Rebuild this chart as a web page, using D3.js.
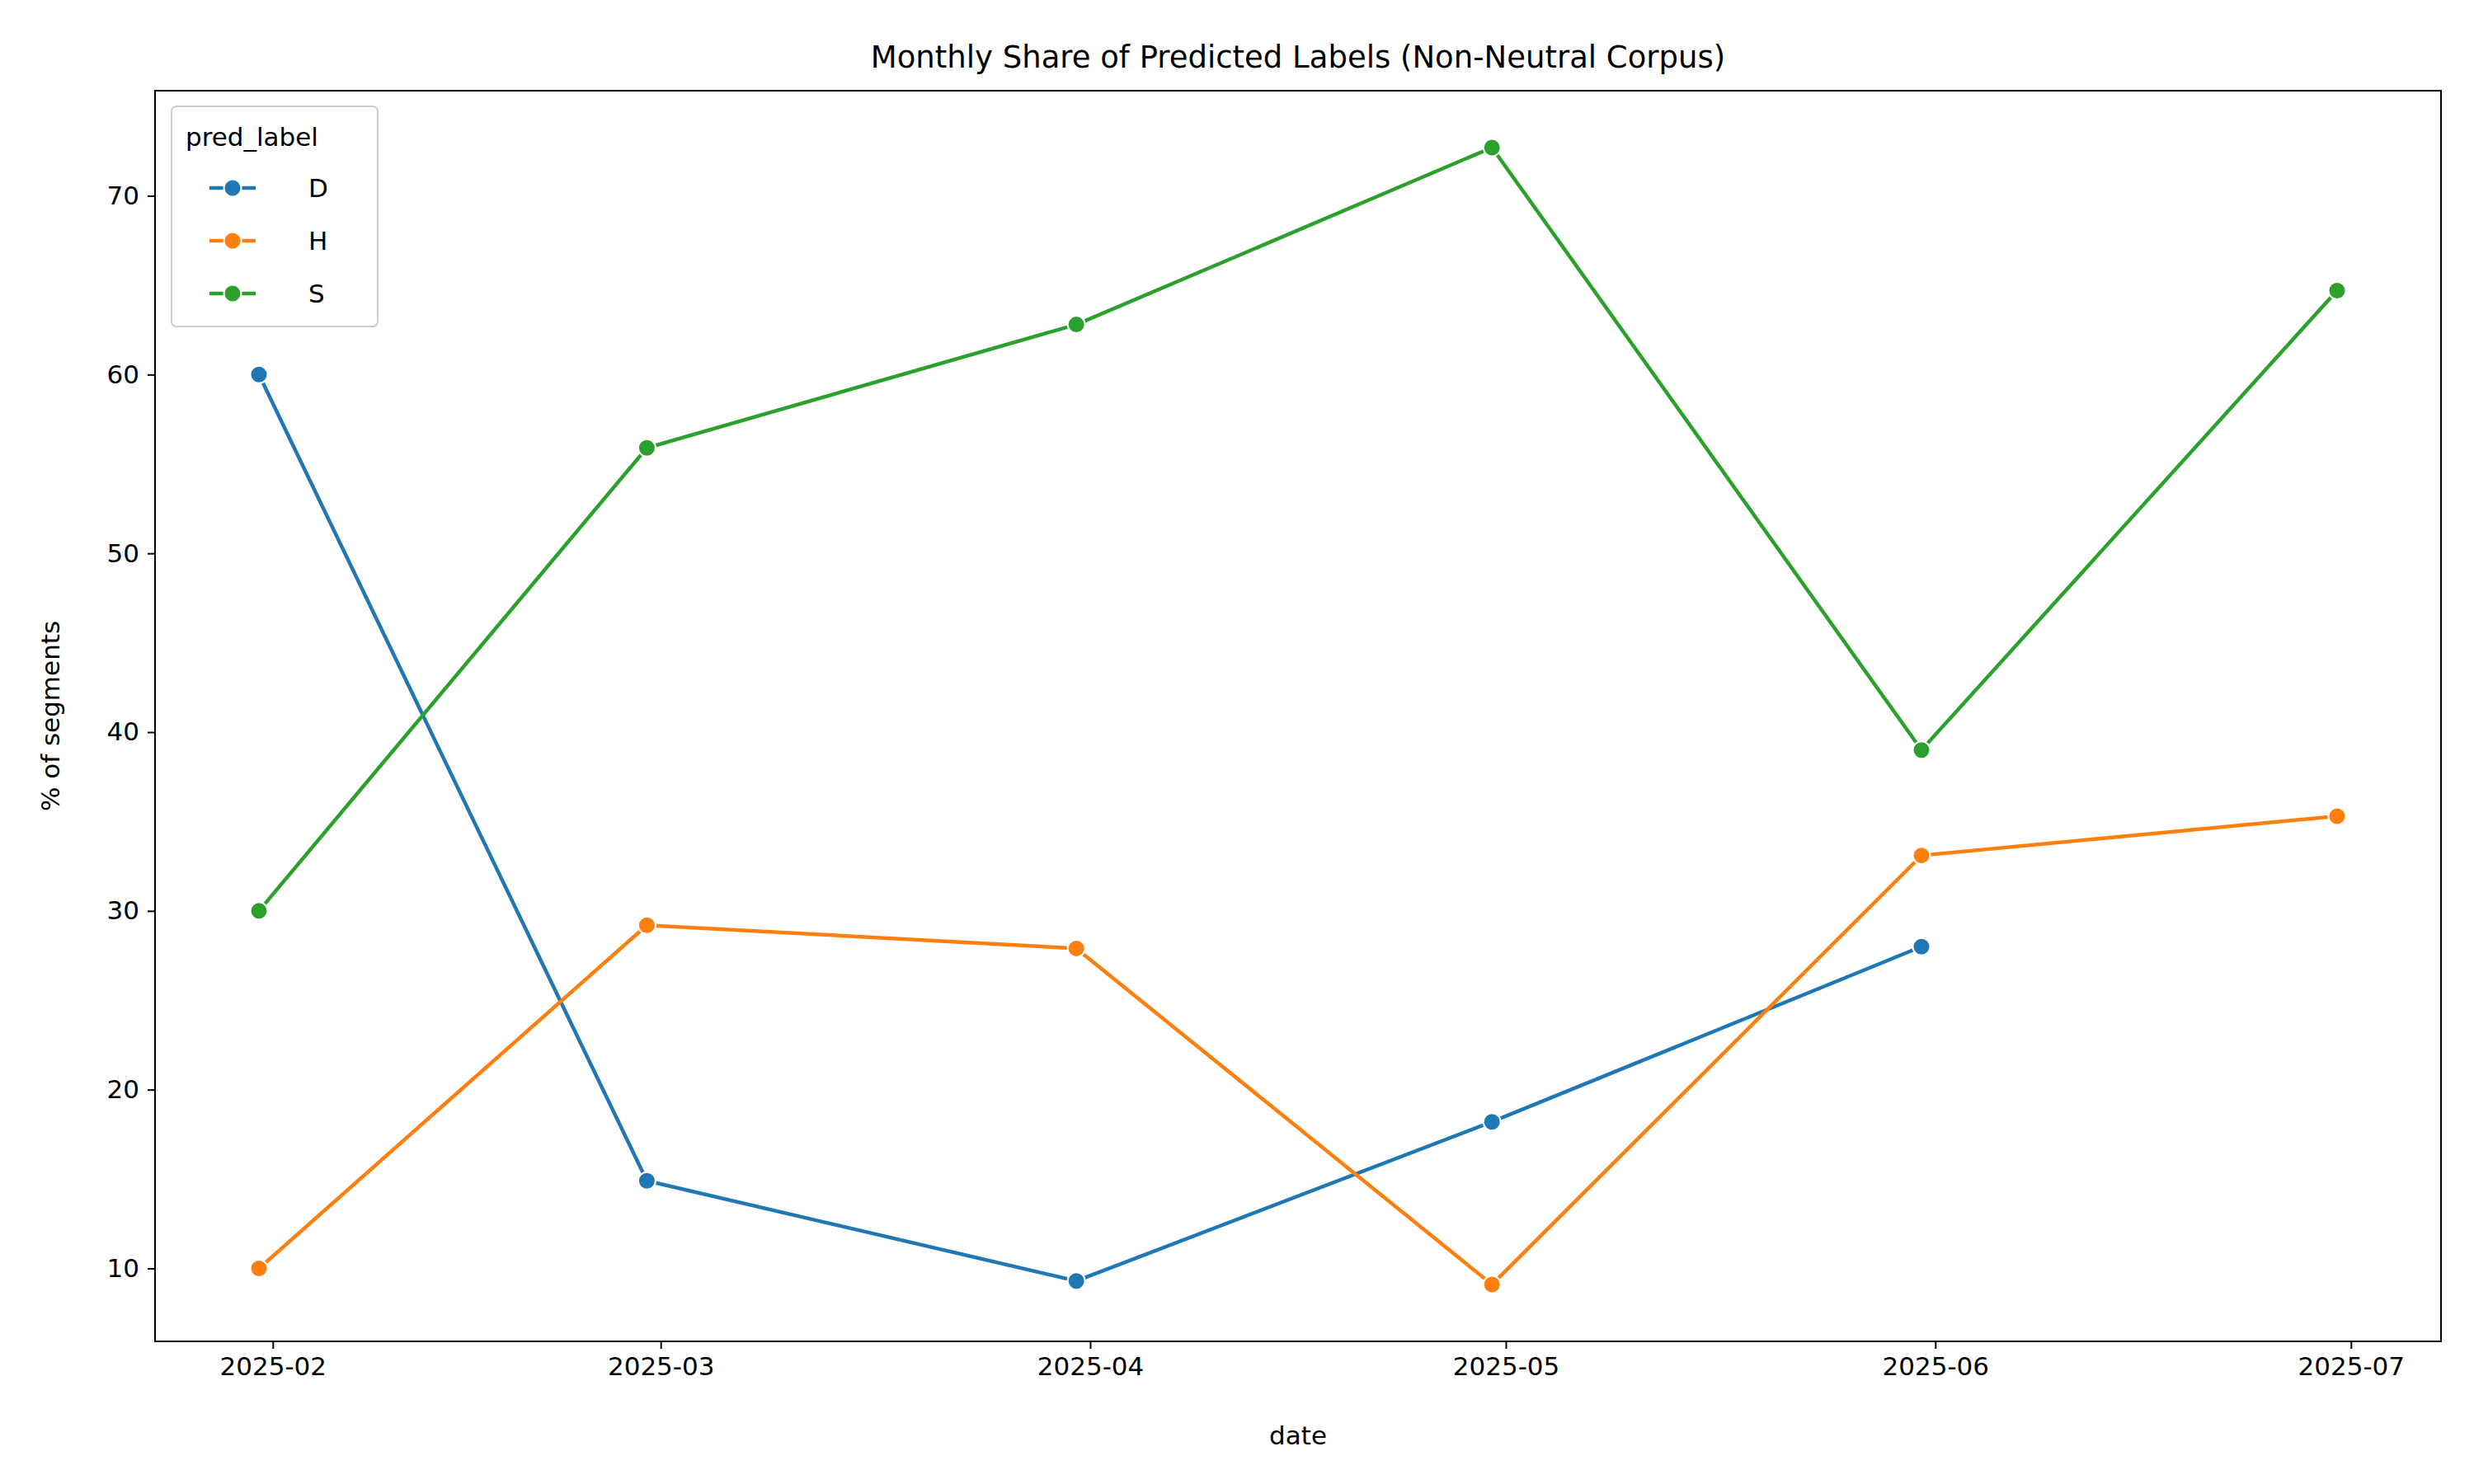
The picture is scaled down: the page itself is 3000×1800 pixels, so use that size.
<!DOCTYPE html>
<html><head><meta charset="utf-8">
<script src="https://cdn.jsdelivr.net/npm/d3@7"></script>
<style>body{margin:0;background:#fff}text{font-family:"DejaVu Sans",sans-serif}</style>
</head><body><svg id="chart" width="3000" height="1800"></svg>
<script>
const dates = ["2025-01-31","2025-02-28","2025-03-31","2025-04-30","2025-05-31","2025-06-30"];
const seriesNames = ["D","H","S"];
const colors = ["#1f77b4","#ff7f0e","#2ca02c"];
const valuesD = [60.0,14.9,9.3,18.2,28.0,null];
const valuesH = [10.0,29.2,27.9,9.1,33.1,35.3];
const valuesS = [30.0,55.9,62.8,72.7,39.0,64.7];
const xTicks = ["2025-02-01","2025-03-01","2025-04-01","2025-05-01","2025-06-01","2025-07-01"];
const yTicks = [10,20,30,40,50,60,70];

const W = 3000, H = 1800, L = 188, R = 2960, T = 110, B = 1627;
const parse = d3.utcParse("%Y-%m-%d");
const dts = dates.map(parse);
const x0 = dts[0], x1 = dts[dts.length-1], pad = (x1 - x0) * 0.05;
const x = d3.scaleUtc().domain([new Date(+x0 - pad), new Date(+x1 + pad)]).range([L, R]);
const y = d3.scaleLinear().domain([5.92, 75.88]).range([B, T]);

const svg = d3.select("#chart");
const fs = 31;

svg.append("g").attr("transform", `translate(0,${B})`)
  .call(d3.axisBottom(x).tickValues(xTicks.map(parse)).tickFormat(d3.utcFormat("%Y-%m")).tickSizeInner(9).tickSizeOuter(0).tickPadding(10))
  .call(g => g.select(".domain").remove())
  .call(g => g.selectAll("line").attr("stroke-width", 2))
  .call(g => g.selectAll("text").attr("font-size", fs).attr("fill", "#000"));
svg.append("g").attr("transform", `translate(${L},0)`)
  .call(d3.axisLeft(y).tickValues(yTicks).tickSizeInner(9).tickSizeOuter(0).tickPadding(10))
  .call(g => g.select(".domain").remove())
  .call(g => g.selectAll("line").attr("stroke-width", 2))
  .call(g => g.selectAll("text").attr("font-size", fs).attr("fill", "#000"));

const all = [valuesD, valuesH, valuesS];
const line = d3.line().defined(d => d.v != null).x(d => x(d.t)).y(d => y(d.v));
all.forEach((vals, i) => {
  const pts = vals.map((v, j) => ({t: dts[j], v}));
  svg.append("path").datum(pts).attr("d", line).attr("fill", "none")
    .attr("stroke", colors[i]).attr("stroke-width", 4.5);
  svg.append("g").selectAll("circle").data(pts.filter(d => d.v != null)).join("circle")
    .attr("cx", d => x(d.t)).attr("cy", d => y(d.v)).attr("r", 10.5)
    .attr("fill", colors[i]).attr("stroke", "#fff").attr("stroke-width", 2);
});

svg.append("rect").attr("x", L).attr("y", T).attr("width", R - L).attr("height", B - T)
  .attr("fill", "none").attr("stroke", "#000").attr("stroke-width", 2);

svg.append("text").attr("x", (L + R) / 2).attr("y", T - 28).attr("text-anchor", "middle")
  .attr("font-size", 37).text("Monthly Share of Predicted Labels (Non-Neutral Corpus)");
svg.append("text").attr("x", (L + R) / 2).attr("y", 1752).attr("text-anchor", "middle")
  .attr("font-size", fs).text("date");
svg.append("text").attr("transform", `translate(72,${(T + B) / 2}) rotate(-90)`).attr("text-anchor", "middle")
  .attr("font-size", fs).text("% of segments");

const lg = svg.append("g").attr("transform", "translate(208,129)");
lg.append("rect").attr("width", 250).attr("height", 267).attr("rx", 6)
  .attr("fill", "#fff").attr("fill-opacity", 0.8).attr("stroke", "#ccc").attr("stroke-width", 2);
lg.append("text").attr("x", 17).attr("y", 48).attr("font-size", fs).text("pred_label");
seriesNames.forEach((n, i) => {
  const cy = 99 + i * 64;
  lg.append("line").attr("x1", 46).attr("x2", 102).attr("y1", cy).attr("y2", cy)
    .attr("stroke", colors[i]).attr("stroke-width", 4.5);
  lg.append("circle").attr("cx", 74).attr("cy", cy).attr("r", 10.5)
    .attr("fill", colors[i]).attr("stroke", "#fff").attr("stroke-width", 2);
  lg.append("text").attr("x", 166).attr("y", cy + 11).attr("font-size", fs).text(n);
});
</script></body></html>
